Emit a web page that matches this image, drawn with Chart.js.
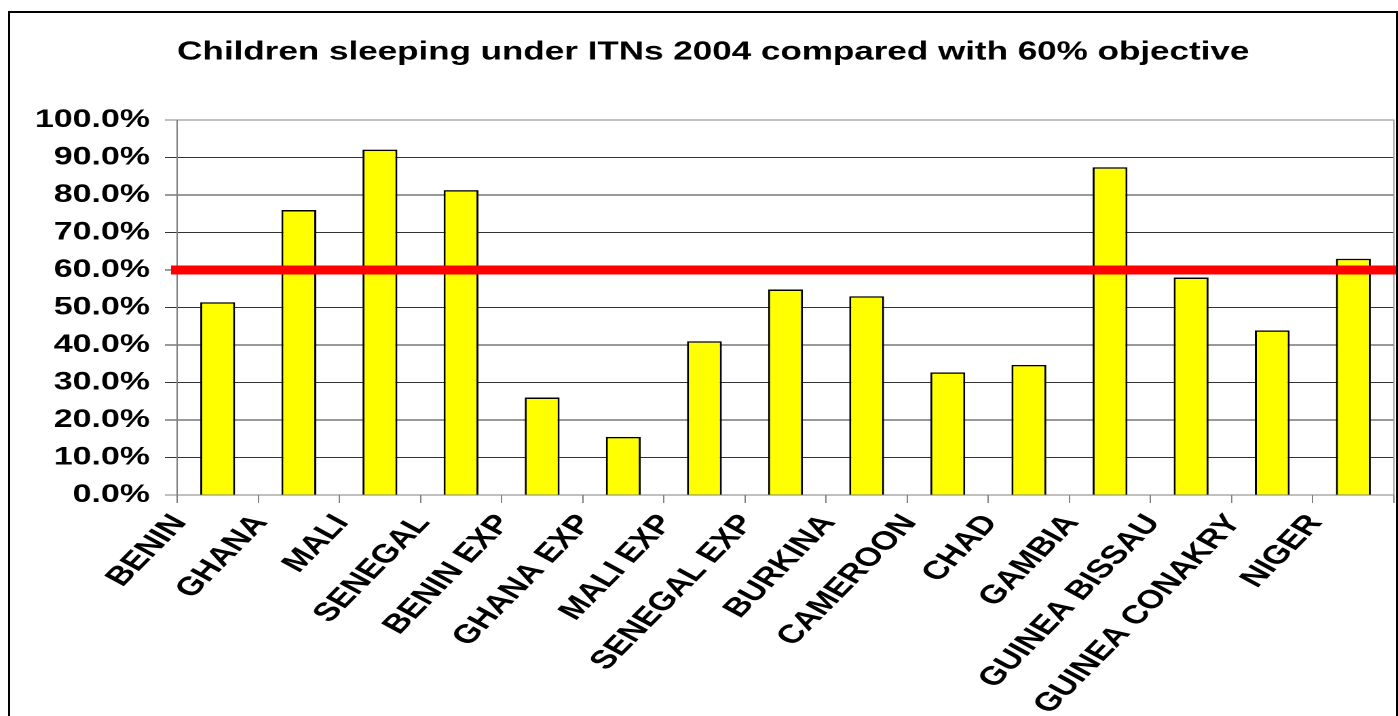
<!DOCTYPE html>
<html>
<head>
<meta charset="utf-8">
<title>Children sleeping under ITNs 2004</title>
<script src="https://cdn.jsdelivr.net/npm/chart.js@4.4.1/dist/chart.umd.min.js"></script>
<style>
  html, body { margin: 0; padding: 0; background: #fff; overflow: hidden; }
  #wrap { position: relative; width: 1398px; height: 716px; }
  #chart { position: absolute; left: 0; top: 0; }
  #frame { position: absolute; left: 8px; top: 11px; width: 1390px; height: 760px;
           border: 2px solid #000; box-sizing: border-box; pointer-events: none; }
</style>
</head>
<body>
<div id="wrap">
  <canvas id="chart" width="1030" height="716" style="width:1398px;height:716px"></canvas>
  <div id="frame"></div>
</div>
<script>
// values (percent)
const categories = ['BENIN', 'GHANA', 'MALI', 'SENEGAL', 'BENIN EXP', 'GHANA EXP', 'MALI EXP',
    'SENEGAL EXP', 'BURKINA', 'CAMEROON', 'CHAD', 'GAMBIA', 'GUINEA BISSAU', 'GUINEA CONAKRY', 'NIGER'];
const coverage = [51.4, 76.0, 92.1, 81.3, 26.0, 15.5, 41.0, 54.8, 53.0, 32.7, 34.7, 87.4, 58.0, 43.9, 63.0];
const objective = 60;
const yMin = 0;
const yMax = 100;
const yStep = 10;

// the source picture is stretched sideways, so draw narrow and let CSS stretch it
const STRETCH = 1398 / 1030;
const labelAngle = Math.atan(STRETCH) * 180 / Math.PI; // looks like 45deg once stretched
const FONT = "'Liberation Sans', Arial, sans-serif";

// red objective line runs across the whole plot (0..1 on a hidden axis)
const objectiveLine = [{ x: 0, y: objective }, { x: 1, y: objective }];

const ctx = document.getElementById('chart').getContext('2d');

new Chart(ctx, {
    type: 'bar',
    data: {
        labels: categories,
        datasets: [{
            type: 'line',
            label: '60% objective',
            data: objectiveLine,
            xAxisID: 'xo',
            yAxisID: 'y',
            borderColor: '#ff0000',
            borderWidth: 9,
            borderCapStyle: 'square',
            pointRadius: 0,
            clip: false,
            order: 0
        }, {
            type: 'bar',
            label: 'Children sleeping under ITNs',
            data: coverage,
            xAxisID: 'x',
            yAxisID: 'y',
            backgroundColor: '#ffff00',
            borderColor: '#000000',
            borderWidth: 1.5,
            grouped: false,
            barPercentage: 0.43,
            categoryPercentage: 1,
            order: 1
        }]
    },
    options: {
        responsive: false,
        devicePixelRatio: 2,
        animation: false,
        layout: { padding: { left: 24, right: 3, top: 0, bottom: 0 } },
        plugins: {
            legend: { display: false },
            tooltip: { enabled: false },
            title: {
                display: true,
                text: 'Children sleeping under ITNs 2004 compared with 60% objective',
                color: '#000',
                font: { family: FONT, size: 25.8, weight: 'bold' },
                padding: { top: 37, bottom: 52 }
            }
        },
        scales: {
            x: {
                type: 'category',
                position: 'bottom',
                offset: true,
                grid: { offset: true, drawOnChartArea: false, color: '#808080', tickLength: 8 },
                border: { color: '#808080' },
                ticks: {
                    autoSkip: false,
                    minRotation: labelAngle,
                    maxRotation: labelAngle,
                    labelOffset: -28,
                    padding: 6,
                    color: '#000',
                    font: { family: FONT, size: 26, weight: 'bold' }
                },
                afterFit: (s) => { s.height = 221; s.paddingLeft = 0; s.paddingRight = 0; }
            },
            xo: {
                type: 'linear', axis: 'x', position: 'bottom', display: false,
                offset: false, grid: { offset: false }, min: 0, max: 1
            },
            y: {
                min: yMin,
                max: yMax,
                ticks: {
                    stepSize: yStep,
                    padding: 11,
                    color: '#000',
                    font: { family: FONT, size: 25, weight: 'bold' },
                    callback: (v) => v.toFixed(1) + '%'
                },
                grid: {
                    tickLength: 9,
                    color: (c) => (c.tick && (c.tick.value === 0 || c.tick.value === 100)) ? '#808080' : '#333333'
                },
                border: { color: '#808080' },
                afterFit: (s) => { s.width = 106.5; }
            },
            y2: {
                position: 'right',
                min: yMin,
                max: yMax,
                grid: { display: false, drawTicks: false },
                ticks: { display: false },
                border: { display: true, color: '#a0a0a0' },
                afterFit: (s) => { s.width = 0; }
            }
        }
    }
});
</script>
</body>
</html>
